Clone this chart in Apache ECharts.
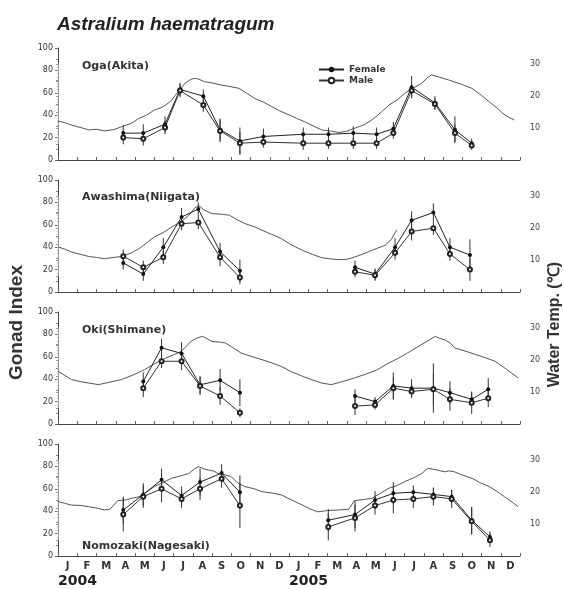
<!DOCTYPE html>
<html><head><meta charset="utf-8">
<script src="https://cdn.jsdelivr.net/npm/echarts@6/dist/echarts.min.js"></script>
<style>html,body{margin:0;padding:0;background:#fff}#c{width:564px;height:589px}</style>
</head><body><div id="c"></div>
<script>
// ---------- data ----------
const monthLabels = ['J','F','M','A','M','J','J','A','S','O','N','D','J','F','M','A','M','J','J','A','S','O','N','D'];
const yearLabels = ['2004','2005'];
const siteNames = ['Oga(Akita)','Awashima(Niigata)','Oki(Shimane)','Nomozaki(Nagesaki)'];
const gonadTicks = [0,20,40,60,80,100];
const tempTicks = [10,20,30];

// water temperature [month since Jan 2004, degC]
const tempOga = [[0,12.2],[0.4,11.6],[0.7,10.9],[1.2,10.1],[1.6,9.4],[2.0,9.6],[2.4,9.1],[2.9,9.5],[3.3,10.4],[3.8,11.4],[4.2,13.0],[4.6,14.0],[5.0,15.6],[5.3,16.2],[5.6,17.2],[5.9,18.6],[6.1,20.3],[6.4,22.5],[6.6,24.0],[6.9,25.2],[7.1,25.5],[7.3,25.3],[7.6,24.5],[8.0,24.1],[8.5,23.4],[8.9,23.0],[9.4,22.4],[9.8,20.9],[10.2,19.3],[10.7,18.0],[11.1,16.7],[11.5,15.4],[12.0,14.1],[12.4,13.0],[12.8,12.0],[13.2,10.8],[13.7,9.4],[14.2,9.0],[14.6,8.6],[15.0,9.0],[15.4,9.9],[15.9,11.0],[16.3,12.5],[16.8,15.0],[17.2,17.2],[17.6,18.7],[18.0,20.8],[18.5,22.6],[18.9,24.0],[19.2,25.8],[19.4,26.6],[19.8,25.9],[20.3,25.0],[20.9,23.8],[21.5,22.4],[22.0,20.2],[22.4,18.2],[22.8,16.3],[23.1,14.6],[23.4,13.4],[23.7,12.5]];
const tempAwashima = [[0,14.1],[0.4,13.3],[0.7,12.5],[1.2,11.7],[1.6,11.1],[2.0,10.8],[2.4,10.4],[2.9,10.8],[3.3,11.1],[3.8,12.2],[4.2,13.5],[4.6,15.3],[5.0,17.2],[5.5,18.7],[5.9,20.3],[6.4,22.0],[6.8,24.0],[7.1,26.2],[7.3,27.1],[7.6,25.6],[8.0,24.5],[8.5,24.3],[8.9,24.0],[9.3,22.6],[9.7,21.4],[10.2,20.4],[10.6,19.3],[11.1,18.0],[11.6,16.7],[12.1,14.8],[12.7,13.0],[13.2,11.8],[13.7,10.7],[14.1,10.4],[14.6,10.1],[15.0,10.2],[15.4,10.9],[15.9,12.0],[16.3,13.0],[16.6,13.7],[17.0,14.6],[17.3,16.3],[17.6,19.4]];
const tempOki = [[0,16.5],[0.4,15.0],[0.7,13.9],[1.2,13.2],[1.6,12.8],[2.1,12.3],[2.7,13.1],[3.3,13.9],[3.9,15.3],[4.5,17.0],[5.0,18.8],[5.6,20.6],[6.0,21.6],[6.4,22.7],[6.7,24.5],[6.9,25.8],[7.2,26.8],[7.5,27.4],[7.8,26.5],[8.0,25.8],[8.4,25.6],[8.7,25.3],[9.1,23.8],[9.5,22.2],[10.0,21.2],[10.6,20.1],[11.1,19.1],[11.6,18.0],[12.1,16.4],[12.7,14.9],[13.2,13.8],[13.7,12.8],[14.2,12.3],[14.8,13.3],[15.4,14.4],[16.0,15.6],[16.6,17.0],[17.1,18.8],[17.7,20.6],[18.1,22.0],[18.6,23.8],[19.1,25.6],[19.6,27.4],[19.8,26.8],[20.1,26.3],[20.4,25.2],[20.6,23.8],[21.1,22.9],[21.7,21.7],[22.2,20.7],[22.7,19.6],[23.3,17.1],[23.9,14.4]];
const tempNomozaki = [[0,17.0],[0.4,16.4],[0.7,15.9],[1.2,15.8],[1.6,15.4],[2.0,15.0],[2.4,14.4],[2.7,14.6],[3.1,17.3],[3.5,17.5],[3.8,18.0],[4.2,18.5],[4.6,20.0],[5.0,21.7],[5.4,22.8],[5.9,24.3],[6.3,24.9],[6.8,25.8],[7.1,27.3],[7.3,27.9],[7.6,27.2],[7.8,26.9],[8.1,26.5],[8.3,25.8],[8.7,25.3],[9.0,24.8],[9.3,23.0],[9.7,21.7],[10.2,21.0],[10.6,20.1],[11.1,19.7],[11.6,19.1],[12.1,17.6],[12.7,15.9],[13.1,14.7],[13.5,13.8],[14.0,14.2],[14.6,14.4],[15.1,14.6],[15.4,17.3],[15.8,17.6],[16.3,18.0],[16.7,19.4],[17.2,21.2],[17.6,22.0],[18.0,23.2],[18.5,24.5],[18.9,25.8],[19.2,27.4],[19.6,27.0],[20.1,26.3],[20.3,26.6],[20.6,26.3],[21.0,25.3],[21.5,24.3],[21.9,23.0],[22.4,21.7],[22.8,20.2],[23.2,18.5],[23.6,16.8],[23.9,15.4]];

// sampling months, gonad index (mean) and error (half bar)
const dateOga = [3.39,4.43,5.56,6.34,7.55,8.42,9.45,10.67,12.74,14.05,15.34,16.55,17.42,18.37,19.58,20.62,21.49];
const femaleOga = [24,24,32,63,57,27,17,21,23,23,24,23,28,65,51,27,15];
const maleOga   = [20,19,29,62,49,26,15,16,15,15,15,15,24,62,50,24,13];
const femaleErrOga = [7,8,7,6,6,10,12,7,6,6,6,6,6,10,6,12,4];
const maleErrOga   = [6,6,6,6,6,10,10,5,6,5,5,5,5,6,5,8,4];

const dateAwashima = [3.39,4.43,5.47,6.42,7.29,8.42,9.45,15.43,16.47,17.51,18.37,19.5,20.36,21.4];
const femaleAwashima = [26,16,40,67,74,36,19,22,16,40,64,71,40,33];
const maleAwashima   = [32,22,31,61,62,31,13,18,15,35,54,57,34,20];
const femaleErrAwashima = [6,6,8,8,6,8,10,6,5,8,8,8,8,14];
const maleErrAwashima   = [6,6,6,6,6,8,6,5,5,6,8,6,6,10];

const dateOki = [4.43,5.38,6.42,7.38,8.42,9.45,15.43,16.47,17.42,18.37,19.5,20.36,21.49,22.35];
const femaleOki = [38,68,63,35,39,28,25,20,34,32,32,28,22,31];
const maleOki   = [32,56,56,34,25,10,16,17,32,29,31,22,19,23];
const femaleErrOki = [8,8,10,8,10,12,6,4,12,8,22,10,6,10];
const maleErrOki   = [8,6,8,8,8,4,8,4,10,6,14,10,10,8];

const dateNomozaki = [3.39,4.43,5.38,6.42,7.38,8.5,9.45,14.04,15.43,16.47,17.42,18.46,19.5,20.45,21.49,22.44];
const femaleNomozaki = [41,55,68,54,66,74,57,32,37,50,56,57,55,53,32,17];
const maleNomozaki   = [37,53,60,51,60,69,45,26,34,45,50,51,53,51,31,14];
const femaleErrNomozaki = [12,10,10,8,12,8,15,10,12,8,10,6,6,6,12,5];
const maleErrNomozaki   = [15,10,12,8,10,8,20,12,12,8,12,8,8,8,12,6];

// ---------- build ----------
const sites = [
  {temp: tempOga, date: dateOga, f: femaleOga, m: maleOga, fe: femaleErrOga, me: maleErrOga, join:true},
  {temp: tempAwashima, date: dateAwashima, f: femaleAwashima, m: maleAwashima, fe: femaleErrAwashima, me: maleErrAwashima, join:false},
  {temp: tempOki, date: dateOki, f: femaleOki, m: maleOki, fe: femaleErrOki, me: maleErrOki, join:false},
  {temp: tempNomozaki, date: dateNomozaki, f: femaleNomozaki, m: maleNomozaki, fe: femaleErrNomozaki, me: maleErrNomozaki, join:false}
];
const panelTop = [48,180,312,444];
const panelH = 112;
const TMAX = 35;
const FONT = 'DejaVu Sans';

const grid = [], xAxis = [], yAxis = [], series = [];
panelTop.forEach((t)=>{ grid.push({left:58, right:44, top:t, height:panelH}); });
panelTop.forEach((t)=>{
  const px = panelH/TMAX;
  grid.push({left:58, right:37, top:t + (TMAX-30)*px, height:25*px});
});
panelTop.forEach((t,i)=>{
  xAxis.push({type:'value', gridIndex:i, min:0, max:24, interval:1,
    axisLine:{show:true, lineStyle:{color:'#444', width:1}},
    axisTick:{show:true, inside:true, length:3, lineStyle:{color:'#666'}},
    axisLabel:{show:false}, splitLine:{show:false}});
});
xAxis.push({type:'category', gridIndex:3, data:monthLabels, boundaryGap:true, position:'bottom',
  axisLine:{show:false}, axisTick:{show:false},
  axisLabel:{fontSize:10, fontWeight:'bold', fontFamily:FONT, color:'#333', margin:5}});
panelTop.forEach((t,i)=>{ xAxis.push({type:'value', gridIndex:4+i, min:0, max:24, show:false}); });
panelTop.forEach((t,i)=>{
  yAxis.push({type:'value', gridIndex:i, min:0, max:100, interval:20, position:'left',
    axisLine:{show:true, lineStyle:{color:'#444'}},
    axisTick:{show:true, length:3, lineStyle:{color:'#666'}},
    minorTick:{show:true, splitNumber:2, length:2, lineStyle:{color:'#888'}},
    axisLabel:{fontSize:8, fontFamily:FONT, color:'#333', margin:5,
      formatter:v=> gonadTicks.includes(v) ? String(v) : ''},
    splitLine:{show:false}});
  yAxis.push({type:'value', gridIndex:i, min:0, max:TMAX, position:'right', show:false});
});
panelTop.forEach((t,i)=>{
  yAxis.push({type:'value', gridIndex:4+i, min:5, max:30, interval:5, position:'right',
    axisLine:{show:true, lineStyle:{color:'#999'}},
    axisTick:{show:true, length:2, inside:true, lineStyle:{color:'#999'}},
    minorTick:{show:true, splitNumber:5, length:1, lineStyle:{color:'#bbb'}},
    axisLabel:{fontSize:8, fontFamily:FONT, color:'#444', margin:3,
      formatter:v=> tempTicks.includes(v) ? String(v) : ''},
    splitLine:{show:false}});
});

function errRender(params, api){
  const x = api.value(0), y = api.value(1), e = api.value(2);
  const p1 = api.coord([x, Math.min(100, y+e)]);
  const p2 = api.coord([x, Math.max(0, y-e)]);
  return {type:'line', shape:{x1:p1[0], y1:p1[1], x2:p2[0], y2:p2[1]},
    style:{stroke:'#333', lineWidth:1}};
}
function segments(s, vals){
  const pts = s.date.map((d,k)=>[d, vals[k]]);
  if (s.join) return [pts];
  return [pts.filter(p=>p[0]<12), pts.filter(p=>p[0]>=12)];
}

sites.forEach((s,i)=>{
  series.push({type:'line', name:'Temp', xAxisIndex:i, yAxisIndex:2*i+1, data:s.temp,
    showSymbol:false, lineStyle:{color:'#555', width:1}, silent:true, z:1});
  segments(s, s.f).forEach(seg=>{
    series.push({type:'line', name:'Female', xAxisIndex:i, yAxisIndex:2*i, data:seg,
      symbol:'circle', symbolSize:4, itemStyle:{color:'#111'}, lineStyle:{color:'#222', width:1}, z:3});
  });
  segments(s, s.m).forEach(seg=>{
    series.push({type:'line', name:'Male', xAxisIndex:i, yAxisIndex:2*i, data:seg,
      symbol:'emptyCircle', symbolSize:4, itemStyle:{color:'#222', borderWidth:1}, lineStyle:{color:'#333', width:1}, z:3});
  });
  series.push({type:'custom', name:'FemaleErr', xAxisIndex:i, yAxisIndex:2*i,
    data:s.date.map((d,k)=>[d, s.f[k], s.fe[k]]), renderItem:errRender, encode:{x:0,y:1}, z:2});
  series.push({type:'custom', name:'MaleErr', xAxisIndex:i, yAxisIndex:2*i,
    data:s.date.map((d,k)=>[d, s.m[k], s.me[k]]), renderItem:errRender, encode:{x:0,y:1}, z:2});
});

const titles = [{text:'Astralium haematragum', left:52, top:10,
  textStyle:{fontSize:19, fontWeight:'bold', fontStyle:'italic', fontFamily:'Liberation Sans', color:'#222'}}];
const labelTops = [56,187,320,536];
siteNames.forEach((n,i)=>{
  titles.push({text:n, left:77, top:labelTops[i],
    textStyle:{fontSize:11, fontWeight:'bold', fontFamily:FONT, color:'#333'}});
});

const option = {
  animation:false,
  backgroundColor:'#fff',
  title:titles,
  legend:{data:['Female','Male'], orient:'vertical', left:313, top:60, itemWidth:25, itemHeight:7, itemGap:2,
    textStyle:{fontSize:9, fontWeight:'bold', fontFamily:FONT, color:'#333'}},
  grid, xAxis, yAxis, series,
  graphic:[
    {type:'text', left:7, top:265, rotation:Math.PI/2,
      style:{text:'Gonad Index', font:'bold 19px "Liberation Sans"', fill:'#333'}},
    {type:'text', left:547, top:262, rotation:Math.PI/2,
      style:{text:'Water Temp. (℃)', font:'bold 16px "Liberation Sans"', fill:'#333'}},
    {type:'text', left:58, top:574, style:{text:yearLabels[0], font:'bold 14px "DejaVu Sans"', fill:'#222'}},
    {type:'text', left:289, top:574, style:{text:yearLabels[1], font:'bold 14px "DejaVu Sans"', fill:'#222'}}
  ]
};
const chart = echarts.init(document.getElementById('c'), null, {renderer:'canvas'});
chart.setOption(option);
</script></body></html>
